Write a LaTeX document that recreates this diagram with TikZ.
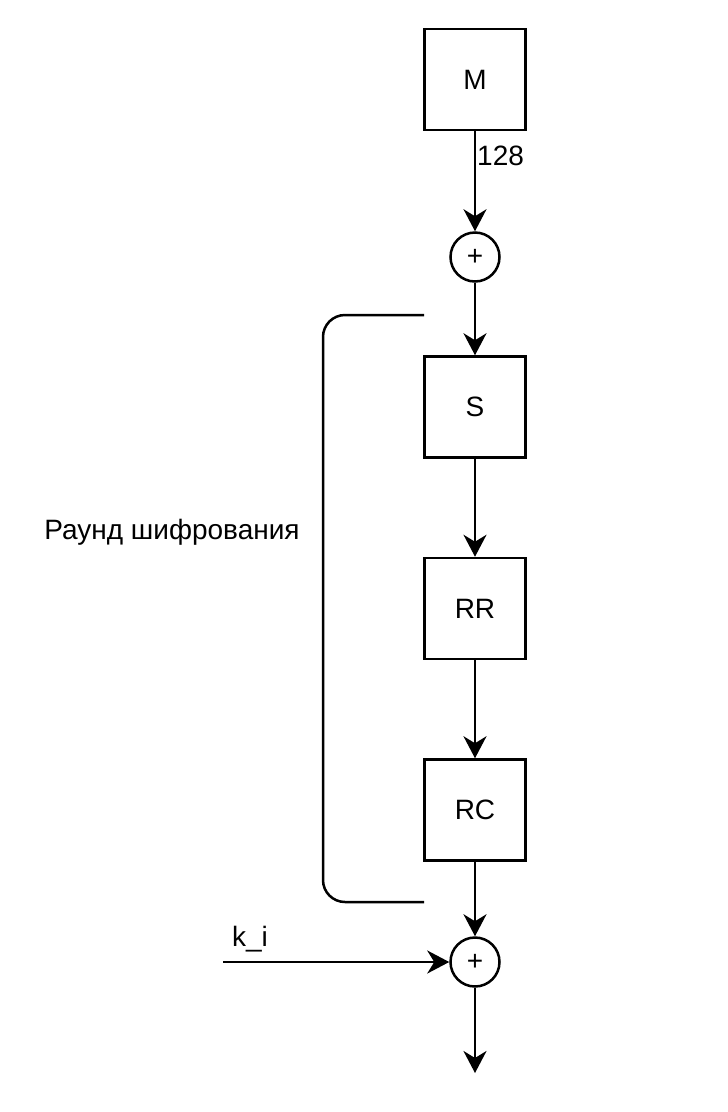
\documentclass[tikz,border=0pt]{standalone}
\usepackage{fontspec}
\setmainfont{Liberation Sans}
\usetikzlibrary{arrows.meta,calc}
\tikzset{
  blk/.style={draw, line width=2.5pt, minimum width=101pt, minimum height=101pt, inner sep=0pt, font=\fontsize{28}{33}\selectfont},
  xorc/.style={draw, circle, line width=2.5pt, minimum size=49pt, inner sep=0pt, font=\fontsize{28}{33}\selectfont},
  lbl/.style={inner sep=0pt, font=\fontsize{28}{33}\selectfont},
  conn/.style={line width=2.5pt, -{Stealth[length=22pt, width=23pt, inset=7pt]}},
  plain/.style={line width=2.5pt}
}
\begin{document}
\begin{tikzpicture}[x=1pt,y=-1pt]
\useasboundingbox (0,0) rectangle (728,1112);
\node[blk] (M) at (475,79.5) {M};
\node[xorc] (x1) at (475,257) {+};
\node[blk] (S) at (475,407) {S};
\node[blk] (RR) at (475,608.5) {RR};
\node[blk] (RC) at (475,810) {RC};
\node[xorc] (x2) at (475,962) {+};
\coordinate (kin) at (223,962);
\coordinate (out) at (475,1073);
\node[lbl, anchor=west] (l128) at (477,156) {128};
\node[lbl] (lk) at (250,939) {k\_i};
\node[lbl] (lround) at (172,532) {Раунд шифрования};
\coordinate (bt) at (424,315);
\coordinate (bb) at (424,902);
\draw[conn] (M) -- (x1);
\draw[conn] (x1) -- (S);
\draw[conn] (S) -- (RR);
\draw[conn] (RR) -- (RC);
\draw[conn] (RC) -- (x2);
\draw[conn] (kin) -- (x2);
\draw[conn] (x2) -- (out);
\draw[plain, rounded corners=22pt] (bt) -- (323,315) -- (323,902) -- (bb);
\end{tikzpicture}
\end{document}
